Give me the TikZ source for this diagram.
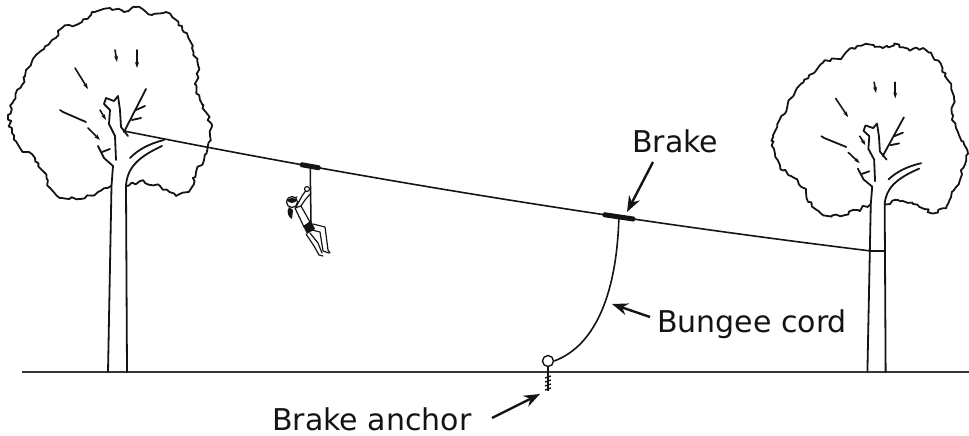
\documentclass[tikz,border=0pt]{standalone}
\usepackage{fontspec}
\setmainfont{DejaVu Sans}
\usetikzlibrary{arrows.meta,decorations.pathmorphing}
\definecolor{ink}{HTML}{141414}
\tikzset{
  treeline/.style={draw=ink, line width=1.8pt, line join=round, line cap=round},
  canopy/.style={decorate, decoration={random steps, segment length=3.5pt, amplitude=1.9pt}},
  leafmark/.style={draw=ink, line width=1.6pt, line cap=round, -{Stealth[length=6pt,width=4pt]}},
  cable/.style={draw=ink, line width=1.6pt},
  groundline/.style={draw=ink!85, line width=2.3pt},
  barstyle/.style={fill=ink, rectangle, rounded corners=1.5pt, minimum height=5pt, inner sep=0pt},
  ringstyle/.style={draw=ink, fill=white, circle, line width=1.4pt, minimum size=11pt, inner sep=0pt},
  lbl/.style={text=ink, font=\fontsize{30}{36}\selectfont, inner sep=0pt},
  ptr/.style={draw=ink, line width=2.4pt, -{Stealth[length=16pt,width=12pt]}},
  riderline/.style={draw=ink, line width=1.2pt, line join=round, line cap=round},
  tree/.pic={
    \draw[treeline, canopy] (-7,-186) -- (-20,-180) -- (-38,-173) -- (-56,-174) -- (-68,-184) -- (-74,-200) -- (-83,-214) -- (-98,-224) -- (-106,-239) -- (-110,-257) -- (-104,-272) -- (-96,-287) -- (-92,-302) -- (-82,-317) -- (-66,-332) -- (-56,-344) -- (-36,-350) -- (-26,-360) -- (-8,-364) -- (6,-360) -- (18,-365) -- (34,-357) -- (48,-360) -- (64,-346) -- (74,-324) -- (80,-307) -- (78,-287) -- (82,-272) -- (94,-247) -- (90,-227) -- (86,-212) -- (78,-200) -- (72,-182) -- (58,-176) -- (42,-186) -- (22,-191) -- (8,-186);
    \draw[treeline] (-10,0) -- (-6.5,-186) -- (-5,-206) -- (-14,-214) -- (-20,-226);
    \draw[treeline] (-16,-220) -- (-8,-223);
    \draw[treeline] (-2,-212) -- (-3,-236) -- (-9,-248) -- (-8,-262) -- (-14,-268) -- (-12,-274) -- (-4,-271) -- (0,-276) -- (2,-262) -- (3,-245) -- (10,-236);
    \draw[treeline] (9,0) -- (8,-186) .. controls (9,-204) and (20,-215) .. (44,-226);
    \draw[treeline] (12,-214) .. controls (20,-222) and (30,-228) .. (46,-232);
    \draw[treeline] (6,-240) -- (28,-283);
    \draw[treeline] (14,-252) -- (23,-254);
    \draw[treeline] (18,-262) -- (27,-266);
    \draw[leafmark] (-43,-304) -- (-30,-283);
    \draw[leafmark] (-3,-322) -- (-1,-310);
    \draw[leafmark] (19,-322) -- (19,-304);
    \draw[treeline] (-58,-262) -- (-55,-260) -- (-32,-250);
    \draw[leafmark] (-30,-244) -- (-18,-232);
    \draw[leafmark] (-18,-262) -- (-12,-252);
  }
}
\begin{document}
\begin{tikzpicture}[x=1pt, y=-1pt]
\pgfmathsetseed{7}
\useasboundingbox (0,0) rectangle (969,436);

% ground
\coordinate (gl) at (22,372);
\coordinate (gr) at (969,372);
\draw[groundline] (gl) -- (gr);

% trees
\pic at (118,372) {tree};
\pic[xscale=0.96, yscale=0.9] at (877,372) {tree};

% zip line
\coordinate (cableL) at (124,131);
\coordinate (cableR) at (871,251);
\coordinate (cableR2) at (885,251);
\draw[cable] (cableL) .. controls (373.3,180.6) and (622.7,220.6) .. (cableR) -- (cableR2);
\path (cableL) .. controls (373.3,180.6) and (622.7,220.6) .. (cableR)
  node[pos=0.662, sloped, barstyle, minimum width=33pt] (brake) {}
  node[pos=0.249, sloped, barstyle, minimum width=21pt] (trolley) {};

% bungee and anchor
\node[ringstyle] (ring) at (548,361) {};
\draw[cable] (brake.center) .. controls (617,290) and (597,345) .. (ring.east);
\coordinate (screwend) at (548,391);
\draw[draw=ink, line width=1.5pt] (ring.south) -- (screwend);
\foreach \yy in {377,381,385,389} {
  \draw[draw=ink, line width=1.3pt] (545,\yy+1) -- (551,\yy-1);
}

% rider
\coordinate (harness) at (311,222);
\draw[draw=ink, line width=1.5pt] (trolley.center) -- (harness);
\draw[riderline] (296,207) -- (302,196) -- (307,189);
\draw[riderline] (299,209) -- (305,200) -- (311,193);
\draw[riderline, fill=white] (307,189) circle (2.5);
\draw[riderline, fill=white] (295,208) -- (301,206) -- (310,222) -- (304,227) -- cycle;
\fill[ink] (289,207) .. controls (286,212) and (288,217) .. (292,219) -- (293,210) -- cycle;
\draw[riderline, fill=white] (292,202) circle (5.5);
\draw[riderline] (287,200) -- (297,197);
\fill[ink] (287,199) arc (180:360:5 and -4) -- cycle;
\fill[ink] (303,226) -- (311,221) -- (315,229) -- (307,234) -- cycle;
\draw[riderline] (313,224) -- (325,227) -- (328,250) -- (330,253);
\draw[riderline] (312,230) -- (320,232) -- (323,251) -- (329,253);
\draw[riderline] (306,234) -- (314,246) -- (319,255) -- (323,256);
\draw[riderline] (310,233) -- (318,243) -- (322,253);

% labels
\node[lbl, anchor=base west] (lbrake) at (632,152) {Brake};
\node[lbl, anchor=base west] (lbungee) at (657,332) {Bungee cord};
\node[lbl, anchor=base west] (lanchor) at (272,430) {Brake anchor};

\coordinate (bt) at (653,162);
\coordinate (btip) at (627,212);
\draw[ptr] (bt) -- (btip);
\coordinate (ct) at (650,317);
\coordinate (ctip) at (612,304);
\draw[ptr] (ct) -- (ctip);
\coordinate (at) at (492,418);
\coordinate (atip) at (540,394);
\draw[ptr] (at) -- (atip);
\end{tikzpicture}
\end{document}
